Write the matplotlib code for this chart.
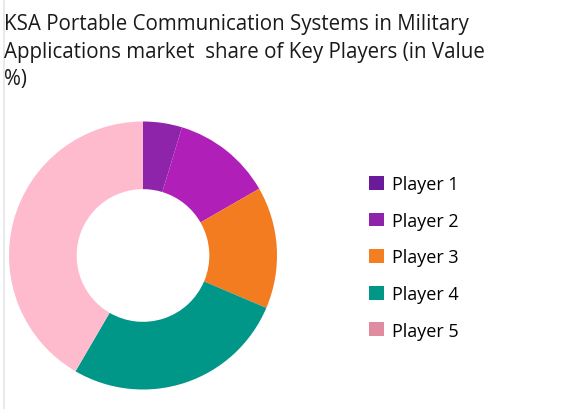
import matplotlib.pyplot as plt
from matplotlib.patches import Patch
from matplotlib.lines import Line2D

title = "KSA Portable Communication Systems in Military\nApplications market  share of Key Players (in Value\n%)"
players = ["Player 1", "Player 2", "Player 3", "Player 4", "Player 5"]
shares = [4.7, 12.0, 14.7, 27.0, 41.6]
slice_colors = ["#8E24AA", "#B020B8", "#F47C20", "#009688", "#FFBBCE"]
legend_colors = ["#6A1B9A", "#8E24AA", "#F57F20", "#009688", "#E08BA0"]

plt.rcParams['font.family'] = ['Open Sans', 'DejaVu Sans']

fig = plt.figure(figsize=(5.72, 4.10), dpi=100)

# faint border line on the left edge
fig.add_artist(Line2D([3.5 / 572, 3.5 / 572], [0, 1], color="#E4E4EC", lw=1.2))

fig.text(4 / 572, 1 - 14 / 410, title, ha="left", va="top", fontsize=14.8,
         color="#1a1a1a", linespacing=1.42)

# donut: centre (143, 256.5), radius ~134 px
r_px = 134
ax = fig.add_axes([(143 - r_px) / 572, 1 - (256.5 + r_px) / 410,
                   2 * r_px / 572, 2 * r_px / 410])
ax.pie(shares, colors=slice_colors, startangle=90, counterclock=False,
       radius=1.0, wedgeprops=dict(width=0.505, edgecolor="none"))
ax.set_xlim(-1, 1)
ax.set_ylim(-1, 1)
ax.set_aspect("auto")
ax.axis("off")

handles = [Patch(facecolor=c, edgecolor="none") for c in legend_colors]
fig.legend(handles, players, loc="upper left",
           bbox_to_anchor=(353 / 572, 1 - 160 / 410), frameon=False,
           fontsize=13, handlelength=0.8, handleheight=0.8,
           handletextpad=0.45, labelspacing=1.03)

fig.savefig("out.png", dpi=100)
